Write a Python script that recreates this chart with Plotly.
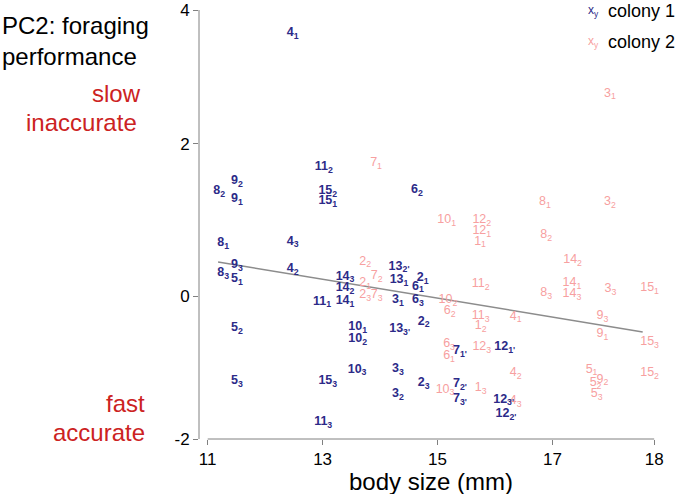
import plotly.graph_objects as go

# ---- data: colony 1 (ant id, trial subscript, body size, PC2) ----
c1_ant = ["4", "11", "9", "8", "9", "15", "15", "8", "4", "9", "4", "8", "5", "14", "14", "14", "11",
          "5", "5", "15", "11", "10", "10", "10", "13", "13", "2", "6", "3", "6", "2", "13", "3", "2", "3",
          "7", "7", "7", "12", "12", "12", "6"]
c1_sub = ["1", "2", "2", "2", "1", "2", "1", "1", "3", "3", "2", "3", "1", "3", "2", "1", "1",
          "2", "3", "3", "3", "1", "2", "3", "2'", "1", "1", "1", "1", "3", "2", "3'", "3", "3", "2",
          "1'", "2'", "3'", "1'", "3'", "2'", "2"]
c1_x = [12.48, 13.02, 11.51, 11.20, 11.51, 13.09, 13.09, 11.27, 12.48, 11.51, 12.48, 11.27, 11.51, 13.39, 13.39, 13.39, 12.99,
        11.51, 11.51, 13.09, 13.01, 13.61, 13.61, 13.60, 14.33, 14.33, 14.74, 14.66, 14.31, 14.66, 14.76, 14.34, 14.31, 14.76, 14.31,
        15.39, 15.39, 15.39, 16.17, 16.15, 16.19, 14.64]
c1_y = [3.68, 1.80, 1.61, 1.47, 1.36, 1.47, 1.33, 0.74, 0.76, 0.43, 0.38, 0.32, 0.24, 0.27, 0.11, -0.07, -0.08,
        -0.45, -1.19, -1.19, -1.76, -0.43, -0.60, -1.03, 0.41, 0.22, 0.25, 0.13, -0.06, -0.06, -0.36, -0.46, -1.02, -1.22, -1.37,
        -0.77, -1.23, -1.44, -0.71, -1.45, -1.65, 1.48]

# ---- data: colony 2 ----
c2_ant = ["3", "7", "8", "3", "10", "12", "12", "1", "8", "14", "14", "14", "8", "3", "15", "4", "9", "9", "15",
          "4", "15", "5", "9", "5", "5", "4", "2", "7", "2", "2", "7", "10", "6", "11", "11", "1", "6", "6", "12",
          "10", "1"]
c2_sub = ["1", "1", "1", "2", "1", "2", "1", "1", "2", "2", "1", "3", "3", "3", "1", "1", "3", "1", "3",
          "2", "2", "1", "2", "2", "3", "3", "2", "2", "1", "3", "3", "2", "2", "2", "3", "2", "3", "1", "3",
          "3", "3"]
c2_x = [18.00, 13.93, 16.87, 18.00, 15.16, 15.77, 15.77, 15.74, 16.89, 17.35, 17.34, 17.34, 16.89, 18.01, 18.69, 16.36, 17.87, 17.87, 18.69,
        16.36, 18.69, 17.68, 17.87, 17.75, 17.77, 16.36, 13.74, 13.94, 13.74, 13.74, 13.94, 15.18, 15.21, 15.75, 15.75, 15.75, 15.20, 15.20, 15.77,
        15.13, 15.75]
c2_y = [2.83, 1.86, 1.31, 1.31, 1.06, 1.06, 0.91, 0.76, 0.85, 0.50, 0.18, 0.03, 0.04, 0.10, 0.11, -0.29, -0.28, -0.53, -0.64,
        -1.08, -1.08, -1.03, -1.17, -1.22, -1.37, -1.47, 0.48, 0.28, 0.18, 0.01, 0.01, -0.06, -0.21, 0.17, -0.28, -0.42, -0.67, -0.84, -0.71,
        -1.31, -1.29]

# regression line end points
fit_x = [11.18, 18.57]
fit_y = [0.476, -0.503]

# axis ticks
x_tickvals = [11, 13, 15, 17, 18.77]
x_ticktext = ["11", "13", "15", "17", "18"]
y_tickvals = [-2, 0, 2.13, 4]
y_ticktext = ["-2", "0", "2", "4"]

NAVY = "#2c2a88"
PINK = "#f7a0a0"
RED = "#cc2222"
AXC = "#808080"
FONT = "Liberation Sans, Arial, Helvetica, sans-serif"


def lab(a, s):
    return f"{a}<sub>{s}</sub>"


fig = go.Figure()
fig.add_trace(go.Scatter(x=fit_x, y=fit_y, mode="lines",
                         line=dict(color="#8c8c8c", width=1.5), hoverinfo="skip"))
fig.add_trace(go.Scatter(x=c2_x, y=c2_y, mode="text",
                         text=[lab(a, s) for a, s in zip(c2_ant, c2_sub)],
                         textposition="middle center",
                         textfont=dict(color=PINK, size=12.5, family=FONT),
                         cliponaxis=False, name="colony 2"))
fig.add_trace(go.Scatter(x=c1_x, y=c1_y, mode="text",
                         text=[lab(a, s) for a, s in zip(c1_ant, c1_sub)],
                         textposition="middle center",
                         textfont=dict(color=NAVY, size=12.5, family=FONT, weight="bold"),
                         cliponaxis=False, name="colony 1"))

L, R, T, B = 199, 20, 10, 55
W, H = 675, 494
pw, ph = W - L - R, H - T - B


def px(xp):
    return (xp - L) / pw


def py(yp):
    return (H - B - yp) / ph


ann = []
ann.append(dict(x=px(0), y=py(25), xref="paper", yref="paper", text="PC2: foraging",
                xanchor="left", yanchor="middle", showarrow=False, font=dict(size=24, color="black", family=FONT)))
ann.append(dict(x=px(0), y=py(57), xref="paper", yref="paper", text="performance",
                xanchor="left", yanchor="middle", showarrow=False, font=dict(size=24, color="black", family=FONT)))
for txt, xr, yc in [("slow", 143, 93), ("inaccurate", 139, 122), ("fast", 147, 403), ("accurate", 147, 432)]:
    ann.append(dict(x=px(xr), y=py(yc), xref="paper", yref="paper", text=txt,
                    xanchor="right", yanchor="middle", showarrow=False, font=dict(size=24, color=RED, family=FONT)))
ann.append(dict(x=px(431), y=py(481), xref="paper", yref="paper", text="body size (mm)",
                xanchor="center", yanchor="middle", showarrow=False, font=dict(size=24, color="black", family=FONT)))
for txt, col, yc in [("colony 1", NAVY, 11), ("colony 2", PINK, 42)]:
    ann.append(dict(x=px(593), y=py(yc), xref="paper", yref="paper", text="x<sub>y</sub>",
                    xanchor="center", yanchor="middle", showarrow=False, font=dict(size=12, color=col, family=FONT)))
    ann.append(dict(x=px(606), y=py(yc), xref="paper", yref="paper", text=txt,
                    xanchor="left", yanchor="middle", showarrow=False, font=dict(size=18, color="black", family=FONT)))

shapes = [
    dict(type="line", xref="x", yref="paper", x0=11, x1=18.77, y0=0, y1=0, line=dict(color=AXC, width=1)),
    dict(type="line", xref="paper", yref="y", x0=0, x1=0, y0=-2, y1=4, line=dict(color=AXC, width=1)),
]

x0 = 11 + (L - 207.7) / 57.5
x1 = 11 + (W - R - 207.7) / 57.5 + 0.005

fig.update_layout(
    width=W, height=H,
    margin=dict(l=L, r=R, t=T, b=B, autoexpand=False),
    paper_bgcolor="white", plot_bgcolor="white",
    showlegend=False,
    annotations=ann, shapes=shapes,
    font=dict(family=FONT, color="black"),
    xaxis=dict(range=[x0, x1], tickvals=x_tickvals, ticktext=x_ticktext, showgrid=False,
               zeroline=False, showline=False, ticks="outside", ticklen=5, tickcolor=AXC,
               tickfont=dict(size=17, color="black"), automargin=False),
    yaxis=dict(range=[-2, 4], tickvals=y_tickvals, ticktext=y_ticktext, showgrid=False,
               zeroline=False, showline=False, ticks="outside", ticklen=5, tickcolor=AXC,
               tickfont=dict(size=17, color="black"), automargin=False),
)

fig.write_html("out.html", config={"displayModeBar": False},
               post_script="document.body.style.margin='0px';")
